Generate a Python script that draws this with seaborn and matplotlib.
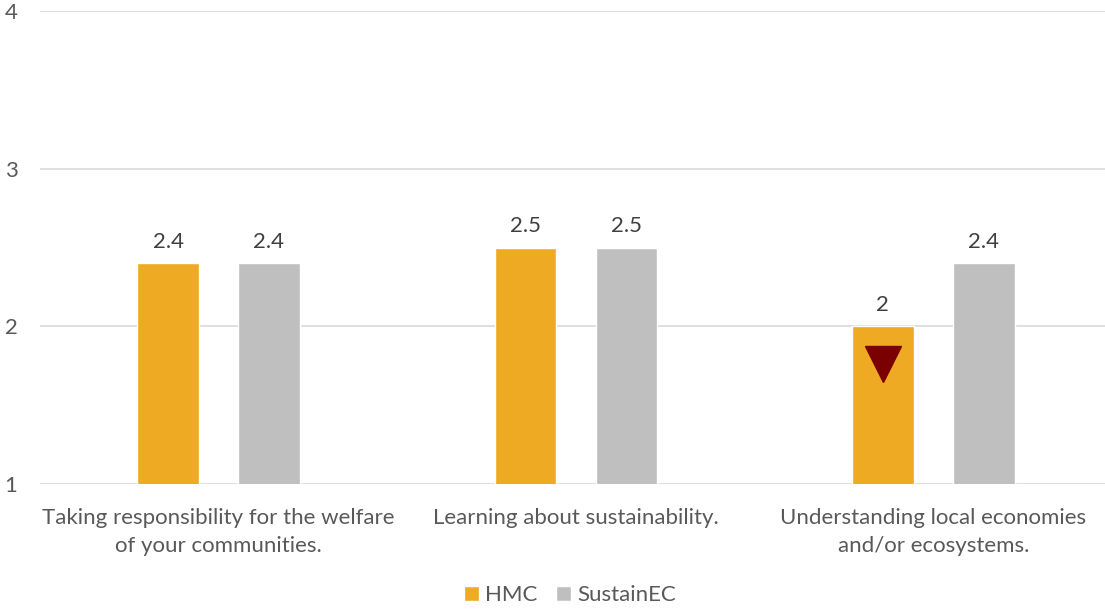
import matplotlib
matplotlib.use("Agg")
import matplotlib.pyplot as plt
import seaborn as sns
import pandas as pd

categories = [
    "Taking responsibility for the welfare\nof your communities.",
    "Learning about sustainability.",
    "Understanding local economies\nand/or ecosystems.",
]
groups = ["HMC", "SustainEC"]
hmc_values = [2.4, 2.5, 2.0]
sustainec_values = [2.4, 2.5, 2.4]
decline_marker_value = 1.76  # downward arrow on the HMC bar of the third item
y_ticks = [1, 2, 3, 4]

colors = {"HMC": "#EEAA22", "SustainEC": "#BFBFBF"}
text_color = "#595959"

df = pd.DataFrame({
    "item": categories * 2,
    "group": ["HMC"] * 3 + ["SustainEC"] * 3,
    "score": hmc_values + sustainec_values,
})

sns.set_theme(style="white")
plt.rcParams["font.family"] = ["Lato", "DejaVu Sans"]

fig = plt.figure(figsize=(11.05, 6.13), dpi=100)
ax = fig.add_axes([0.036, 0.2104, 0.9704, 0.7716])

sns.barplot(
    data=df, x="item", y="score", hue="group", hue_order=groups,
    order=categories, palette=colors, width=0.565, gap=0.39,
    saturation=1, errorbar=None, ax=ax, zorder=3,
)

for container in ax.containers:
    ax.bar_label(container, fmt="{:g}", padding=8, fontsize=16, color="#404040")

# marker flagging the lower HMC score
ax.plot(
    [categories[2]], [decline_marker_value], marker="v", markersize=26,
    color="#7B0000", linestyle="none", zorder=4,
)
# shift the marker onto the HMC bar
ax.lines[-1].set_xdata([2 - 0.1413])

ax.set_ylim(1, 4)
ax.set_xlim(-0.5, 2.5)
ax.set_yticks(y_ticks)
ax.yaxis.grid(True, color="#D9D9D9", linewidth=1.2, zorder=0)
ax.set_axisbelow(True)
for s in ax.spines.values():
    s.set_visible(False)
ax.tick_params(axis="both", length=0, labelsize=16, colors=text_color)
ax.tick_params(axis="y", pad=16)
ax.tick_params(axis="x", pad=17)
for lbl in ax.get_xticklabels():
    lbl.set_linespacing(1.55)
ax.set_xlabel("")
ax.set_ylabel("")

handles, labels = ax.get_legend_handles_labels()
ax.legend(
    handles, labels, loc="center", bbox_to_anchor=(0.516, 0.029),
    bbox_transform=fig.transFigure, ncol=2, frameon=False, fontsize=16,
    handlelength=0.65, handleheight=0.65, handletextpad=0.3, columnspacing=0.85,
    labelcolor=text_color,
)

fig.savefig("out.png", dpi=100)
